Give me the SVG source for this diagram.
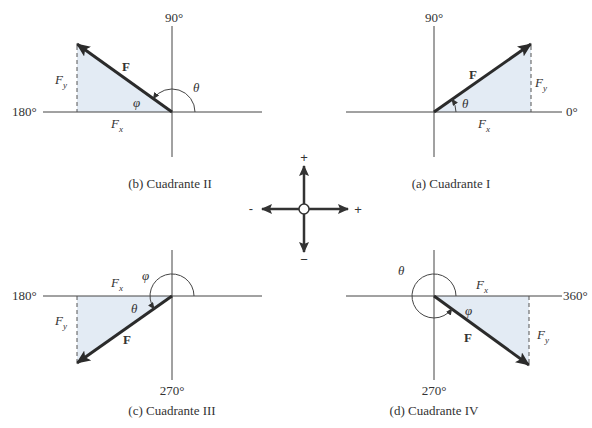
<svg xmlns="http://www.w3.org/2000/svg" width="592" height="428" viewBox="0 0 592 428">
<defs>
<marker id="fh" markerUnits="userSpaceOnUse" markerWidth="16" markerHeight="12" refX="13" refY="6" orient="auto">
<path d="M0,0 L14,6 L0,12 L3,6 Z" fill="#2b2b2b"/>
</marker>
<marker id="ah" markerUnits="userSpaceOnUse" markerWidth="8" markerHeight="6" refX="6" refY="3" orient="auto">
<path d="M0,0 L7,3 L0,6 Z" fill="#333"/>
</marker>
<marker id="ch" markerUnits="userSpaceOnUse" markerWidth="12" markerHeight="10" refX="10" refY="5" orient="auto">
<path d="M0,0 L11,5 L0,10 L2,5 Z" fill="#333"/>
</marker>
</defs>
<style>
.ax{stroke:#444;stroke-width:1;fill:none}
.tri{fill:#e3ebf4;stroke:none}
.dash{stroke:#555;stroke-width:1;stroke-dasharray:4 3;fill:none}
.vec{stroke:#2b2b2b;stroke-width:3;fill:none;marker-end:url(#fh)}
.arc{stroke:#444;stroke-width:1;fill:none;marker-end:url(#ah)}
.cr{stroke:#333;stroke-width:2.5;fill:none;marker-end:url(#ch)}
text{font-family:"Liberation Serif","Times New Roman",serif;fill:#333;font-size:13px}
.it{font-style:italic}
.b{font-weight:bold}
.c{text-anchor:middle}
.sub{font-size:9px}
.sg{font-family:"Liberation Sans",Arial,sans-serif;font-size:13px;text-anchor:middle}
</style>

<g id="quadII">
<polygon class="tri" points="77,44 172,112 77,112"/>
<line class="ax" x1="43" y1="112" x2="262" y2="112"/>
<line class="ax" x1="172" y1="26" x2="172" y2="157"/>
<line class="dash" x1="77" y1="46" x2="77" y2="112"/>
<line class="vec" x1="172" y1="112" x2="77" y2="44"/>
<path class="arc" d="M195,112 A23,23 0 0 0 153.3,98.6"/>
<text class="c" x="174" y="22">90°</text>
<text x="12" y="116">180°</text>
<text class="b" x="122" y="71">F</text>
<text class="it" x="55" y="84">F<tspan class="sub" dy="4">y</tspan></text>
<text class="it" x="133" y="107">φ</text>
<text class="it" x="111" y="128">F<tspan class="sub" dy="4">x</tspan></text>
<text class="it" x="193" y="92">θ</text>
<text class="c" x="170" y="188">(b) Cuadrante II</text>
</g>

<g id="quadI">
<polygon class="tri" points="531,44 434,112 531,112"/>
<line class="ax" x1="346" y1="112" x2="562" y2="112"/>
<line class="ax" x1="434" y1="26" x2="434" y2="157"/>
<line class="dash" x1="531" y1="46" x2="531" y2="112"/>
<line class="vec" x1="434" y1="112" x2="531" y2="44"/>
<path class="arc" d="M456,112 A22,22 0 0 0 452,99.4"/>
<text class="c" x="434" y="22">90°</text>
<text x="566" y="116">0°</text>
<text class="b" x="469" y="79">F</text>
<text class="it" x="535" y="87">F<tspan class="sub" dy="4">y</tspan></text>
<text class="it" x="462" y="108">θ</text>
<text class="it" x="478" y="128">F<tspan class="sub" dy="4">x</tspan></text>
<text class="c" x="451" y="188">(a) Cuadrante I</text>
</g>

<g id="center">
<line class="cr" x1="304" y1="204" x2="304" y2="166"/>
<line class="cr" x1="304" y1="214" x2="304" y2="252"/>
<line class="cr" x1="299" y1="209" x2="262" y2="209"/>
<line class="cr" x1="309" y1="209" x2="348" y2="209"/>
<circle cx="304" cy="209" r="5" fill="#fff" stroke="#333" stroke-width="1.5"/>
<text class="sg" x="304" y="162">+</text>
<text class="sg" x="304" y="264">−</text>
<text class="sg" x="251" y="213">-</text>
<text class="sg" x="358" y="214">+</text>
</g>

<g id="quadIII">
<polygon class="tri" points="77,363 172,296 77,296"/>
<line class="ax" x1="43" y1="296" x2="262" y2="296"/>
<line class="ax" x1="172" y1="250" x2="172" y2="380"/>
<line class="dash" x1="77" y1="296" x2="77" y2="361"/>
<line class="vec" x1="172" y1="296" x2="77" y2="363"/>
<path class="arc" d="M194,296 A22,22 1 1 0 154,308.6"/>
<text x="12" y="300">180°</text>
<text class="it" x="111" y="287">F<tspan class="sub" dy="4">x</tspan></text>
<text class="it" x="142" y="280">φ</text>
<text class="it" x="131" y="313">θ</text>
<text class="it" x="55" y="325">F<tspan class="sub" dy="4">y</tspan></text>
<text class="b" x="123" y="344">F</text>
<text class="c" x="172" y="395">270°</text>
<text class="c" x="172" y="415">(c) Cuadrante III</text>
</g>

<g id="quadIV">
<polygon class="tri" points="529,365 434,296 529,296"/>
<line class="ax" x1="346" y1="296" x2="562" y2="296"/>
<line class="ax" x1="434" y1="250" x2="434" y2="380"/>
<line class="dash" x1="529" y1="296" x2="529" y2="363"/>
<line class="vec" x1="434" y1="296" x2="529" y2="365"/>
<path class="arc" d="M456,296 A22,22 0 1 0 451.8,308.9"/>
<text x="563" y="300">360°</text>
<text class="it" x="398" y="275">θ</text>
<text class="it" x="476" y="289">F<tspan class="sub" dy="4">x</tspan></text>
<text class="it" x="465" y="315">φ</text>
<text class="it" x="537" y="339">F<tspan class="sub" dy="4">y</tspan></text>
<text class="b" x="464" y="342">F</text>
<text class="c" x="434" y="395">270°</text>
<text class="c" x="434" y="415">(d) Cuadrante IV</text>
</g>
</svg>
